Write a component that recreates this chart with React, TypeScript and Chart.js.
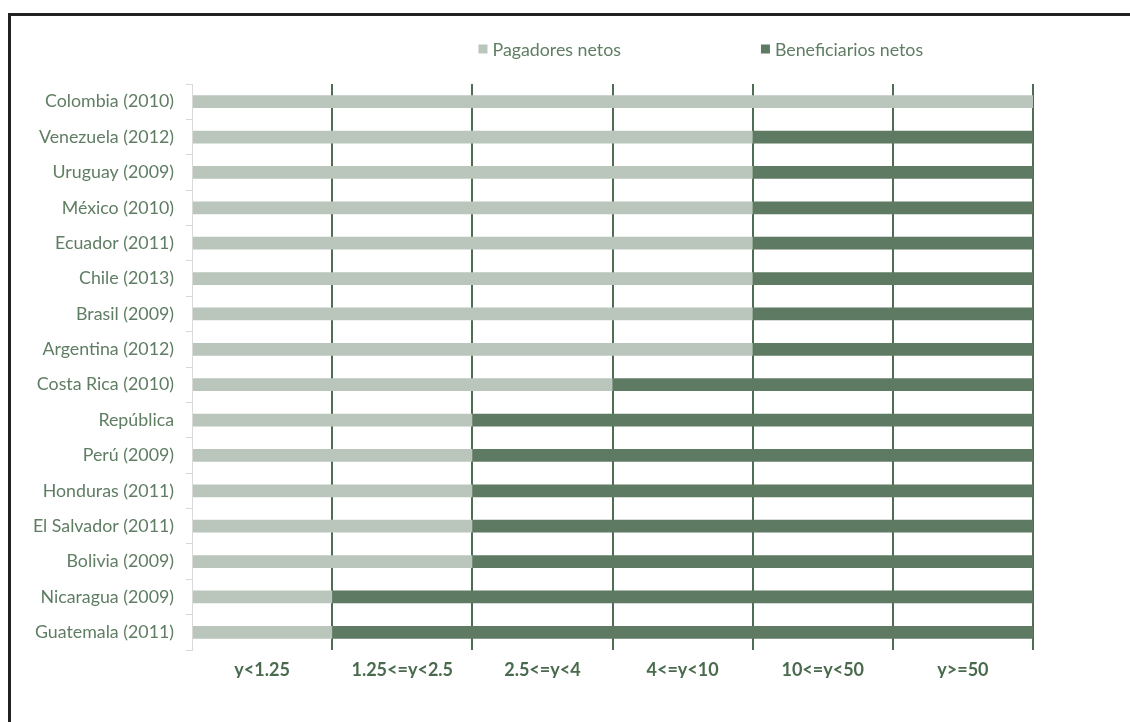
import React, { useEffect, useRef } from "react";
import { Chart, registerables } from "chart.js";

Chart.register(...registerables);

const countries = [
  "Colombia (2010)",
  "Venezuela (2012)",
  "Uruguay (2009)",
  "México (2010)",
  "Ecuador (2011)",
  "Chile (2013)",
  "Brasil (2009)",
  "Argentina (2012)",
  "Costa Rica (2010)",
  "República",
  "Perú (2009)",
  "Honduras (2011)",
  "El Salvador (2011)",
  "Bolivia (2009)",
  "Nicaragua (2009)",
  "Guatemala (2011)",
];

const pagadores = [6, 4, 4, 4, 4, 4, 4, 4, 3, 2, 2, 2, 2, 2, 1, 1];
const beneficiarios = [0, 2, 2, 2, 2, 2, 2, 2, 3, 4, 4, 4, 4, 4, 5, 5];

const rangeLabels = ["y<1.25", "1.25<=y<2.5", "2.5<=y<4", "4<=y<10", "10<=y<50", "y>=50"];

const seriesNames = ["Pagadores netos", "Beneficiarios netos"];
const seriesColors = ["#bac6bb", "#5e7a62"];

const LABEL_COLOR = "#5f7d63";
const TICK_COLOR = "#4a6a4e";
const GRID_COLOR = "#4f6d53";
const AXIS_GREY = "#d9d9d9";
const TEXT_SIZE = 17.8;

const customLegend = {
  id: "customLegend",
  afterDraw(chart: any) {
    const { ctx, chartArea } = chart;
    const y = 50;
    const box = 9;
    const gap = 5;
    const itemGap = 140;
    ctx.save();
    ctx.font = `${TEXT_SIZE}px Lato`;
    const widths = seriesNames.map((n) => box + gap + ctx.measureText(n).width);
    const total = widths[0] + itemGap + widths[1];
    const center = chartArea.left + chartArea.width * 0.605;
    let x = center - total / 2;
    seriesNames.forEach((name, i) => {
      ctx.fillStyle = seriesColors[i];
      ctx.fillRect(x, y - box / 2 - 1, box, box);
      ctx.fillStyle = LABEL_COLOR;
      ctx.textBaseline = "middle";
      ctx.textAlign = "left";
      ctx.fillText(name, x + box + gap, y);
      x += widths[i] + itemGap;
    });
    ctx.restore();
  },
};

export default function App() {
  const ref = useRef<HTMLCanvasElement>(null);

  useEffect(() => {
    if (!ref.current) return;
    const chart = new Chart(ref.current, {
      type: "bar",
      data: {
        labels: countries,
        datasets: [
          {
            label: seriesNames[0],
            data: pagadores,
            backgroundColor: seriesColors[0],
            barPercentage: 0.36,
            categoryPercentage: 1,
          },
          {
            label: seriesNames[1],
            data: beneficiarios,
            backgroundColor: seriesColors[1],
            barPercentage: 0.36,
            categoryPercentage: 1,
          },
        ],
      },
      options: {
        indexAxis: "y",
        responsive: false,
        animation: false,
        layout: { padding: { left: 20, top: 84, right: 97, bottom: 44 } },
        plugins: {
          legend: { display: false },
          tooltip: { enabled: false },
        },
        scales: {
          x: {
            type: "linear",
            stacked: true,
            min: 0,
            max: 6,
            position: "bottom",
            ticks: { display: false, stepSize: 1 },
            grid: {
              color: (c: any) => (c.tick && c.tick.value === 0 ? "rgba(0,0,0,0)" : GRID_COLOR),
              lineWidth: 2,
              drawTicks: false,
            },
            border: { display: false },
            afterFit: (s: any) => {
              s.height = 0;
            },
          },
          xLabels: {
            type: "category",
            labels: rangeLabels,
            position: "bottom",
            offset: true,
            grid: { display: false, drawTicks: false },
            border: { display: false },
            ticks: {
              padding: 9,
              color: TICK_COLOR,
              font: { family: "Lato", size: 18, weight: "bold" },
              maxRotation: 0,
              autoSkip: false,
            },
            afterFit: (s: any) => {
              s.height = 28;
            },
          },
          y: {
            stacked: true,
            grid: {
              drawOnChartArea: false,
              drawTicks: true,
              tickLength: 6,
              color: AXIS_GREY,
              offset: true,
            },
            border: { display: true, color: AXIS_GREY, width: 1 },
            ticks: {
              padding: 12,
              color: LABEL_COLOR,
              font: { family: "Lato", size: TEXT_SIZE },
              autoSkip: false,
            },
            afterFit: (s: any) => {
              s.width = 172;
            },
          },
        },
      },
      plugins: [customLegend],
    } as any);
    return () => chart.destroy();
  }, []);

  return (
    <>
      <div
        style={{
          position: "absolute",
          left: 8,
          top: 13,
          right: 0,
          bottom: 0,
          borderTop: "3px solid #222",
          borderLeft: "3px solid #222",
        }}
      />
      <canvas
        ref={ref}
        width={1130}
        height={722}
        style={{ position: "absolute", left: 0, top: 0, width: 1130, height: 722 }}
      />
    </>
  );
}
